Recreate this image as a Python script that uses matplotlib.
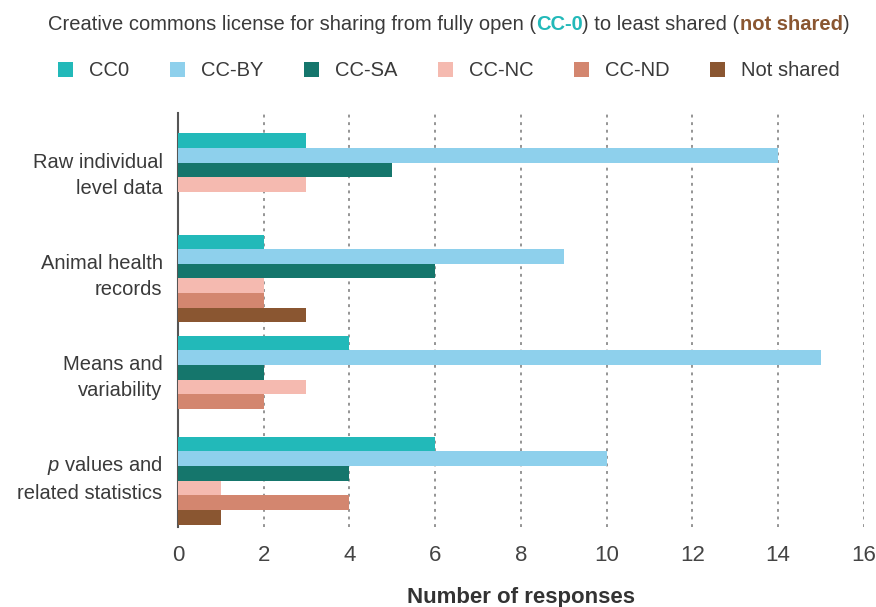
import matplotlib
matplotlib.use("Agg")
import matplotlib.pyplot as plt
import numpy as np

plt.rcParams['font.family'] = ['Liberation Sans', 'DejaVu Sans']
plt.rcParams['mathtext.fontset'] = 'custom'
plt.rcParams['mathtext.it'] = 'Liberation Sans:italic'

categories = ["Raw individual\nlevel data", "Animal health\nrecords",
              "Means and\nvariability", "$\\it{p}$ values and\nrelated statistics"]
licenses = ["CC0", "CC-BY", "CC-SA", "CC-NC", "CC-ND", "Not shared"]
cc0 = [3, 2, 4, 6]
cc_by = [14, 9, 15, 10]
cc_sa = [5, 6, 2, 4]
cc_nc = [3, 2, 3, 1]
cc_nd = [0, 2, 2, 4]
not_shared = [0, 3, 0, 1]
xticks = [0, 2, 4, 6, 8, 10, 12, 14, 16]

series = [cc0, cc_by, cc_sa, cc_nc, cc_nd, not_shared]
colors = ["#22B9B9", "#8ED0EC", "#15766C", "#F5BAB0", "#D3866F", "#8A5631"]

fig = plt.figure(figsize=(8.76, 6.07), dpi=100)
ax = fig.add_axes([0.203, 0.132, 0.783, 0.682])

group_step = 6.9
bar_h = 1.0
centers = np.arange(len(categories)) * group_step
handles = []
for i, (vals, col) in enumerate(zip(series, colors)):
    y = centers + (i - 2.5) * bar_h
    h = ax.barh(y, vals, height=bar_h, color=col, label=licenses[i], zorder=3)
    handles.append(h)

ax.set_ylim(centers[-1] + 3.0 + 0.15, centers[0] - 3.0 - 1.4)
ax.set_xlim(0, 16)
ax.set_yticks(centers - 0.5)
ax.set_yticklabels(categories, fontsize=14.5, color="#3a3a3a", linespacing=1.45)
ax.set_xticks(xticks)
ax.set_xticklabels([str(t) for t in xticks], fontsize=16, color="#444444")
ax.tick_params(axis="y", length=0, pad=11)
ax.tick_params(axis="x", length=0, pad=13)
for t in xticks[1:]:
    ax.axvline(t, color="#8c8c8c", linestyle=(0, (1.6, 2.6)), linewidth=1.3, zorder=1)
for s in ["top", "right", "bottom"]:
    ax.spines[s].set_visible(False)
ax.spines["left"].set_color("#555555")
ax.spines["left"].set_linewidth(1.5)
ax.set_xlabel("Number of responses", fontsize=16, fontweight="bold", color="#333333", labelpad=15)

# Title with coloured parts
fig.canvas.draw()
renderer = fig.canvas.get_renderer()
parts = [("Creative commons license for sharing from fully open (", "#3a3a3a", "normal"),
         ("CC-0", "#22B9B9", "bold"),
         (") to least shared (", "#3a3a3a", "normal"),
         ("not shared", "#8A5631", "bold"),
         (")", "#3a3a3a", "normal")]
texts = []
for s, c, w in parts:
    t = fig.text(0, 1 - 24 / 607, s, color=c, fontweight=w, fontsize=14.5, va="center", ha="left")
    texts.append(t)
widths = [t.get_window_extent(renderer).width / fig.bbox.width for t in texts]
total = sum(widths)
x = (37 + 860) / 2 / 876 - total / 2
for t, wdt in zip(texts, widths):
    t.set_x(x)
    x += wdt

fig.legend(handles=handles, labels=licenses, loc="center", ncol=6,
           bbox_to_anchor=(449 / 876, 1 - 71 / 607), frameon=False, fontsize=14.5,
           handlelength=0.75, handleheight=0.75, handletextpad=0.8, columnspacing=2.0,
           labelcolor="#3a3a3a")

fig.savefig("out.png", dpi=100)
